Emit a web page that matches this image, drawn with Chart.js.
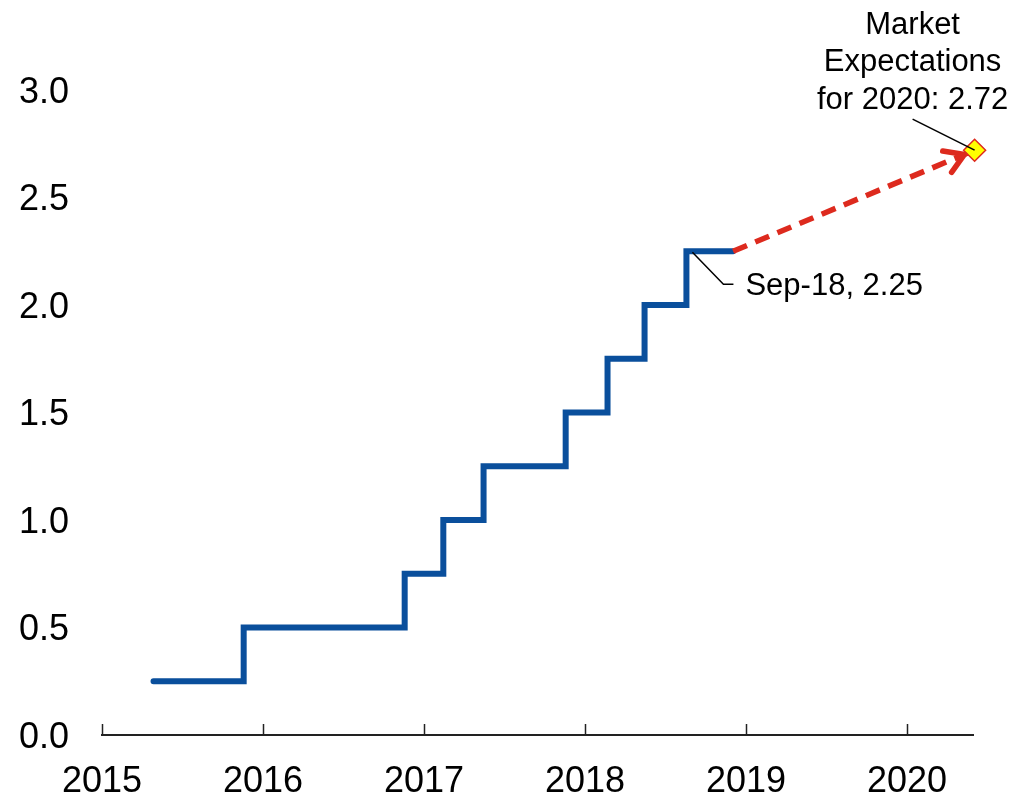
<!DOCTYPE html>
<html>
<head>
<meta charset="utf-8">
<script src="https://cdn.jsdelivr.net/npm/chart.js@4.4.0/dist/chart.umd.min.js"></script>
<style>
  html, body { margin: 0; padding: 0; background: #fff; }
  #wrap { width: 1015px; height: 797px; }
</style>
</head>
<body>
<div id="wrap"><canvas id="rateChart"></canvas></div>
<script>
// fed funds upper bound (x = decimal year)
var stepDates = [2015.32, 2015.88, 2016.88, 2017.12, 2017.37, 2017.88, 2018.14, 2018.37, 2018.63, 2018.92];
var rateLevels = [0.25, 0.5, 0.75, 1.0, 1.25, 1.5, 1.75, 2.0, 2.25, 2.25];
var forecastDates = [2018.92, 2020.42];
var forecastLevels = [2.25, 2.72];
var yearTicks = [2015, 2016, 2017, 2018, 2019, 2020];
var rateTicks = [0, 0.5, 1.0, 1.5, 2.0, 2.5, 3.0];
var lastLabel = 'Sep-18, 2.25';
var marketLabel = ['Market', 'Expectations', 'for 2020: 2.72'];

var FONT = '"Liberation Sans", Arial, sans-serif';
var BLUE = '#0a4f9c';
var RED = '#dd2a1e';

var annotations = {
  id: 'annotations',
  beforeDatasetsDraw(chart) {
    // arrow head of the forecast line
    const ctx = chart.ctx, x = chart.scales.x, y = chart.scales.y;
    const sx = x.getPixelForValue(forecastDates[0]), sy = y.getPixelForValue(forecastLevels[0]);
    const ex = x.getPixelForValue(forecastDates[1]), ey = y.getPixelForValue(forecastLevels[1]);
    const a = Math.atan2(ey - sy, ex - sx);
    const tx = ex - 11 * Math.cos(a), ty = ey - 11 * Math.sin(a);
    ctx.save();
    ctx.strokeStyle = RED;
    ctx.lineWidth = 5.5;
    ctx.lineCap = 'round';
    ctx.lineJoin = 'round';
    ctx.beginPath();
    ctx.moveTo(tx - 22 * Math.cos(a - 0.55), ty - 22 * Math.sin(a - 0.55));
    ctx.lineTo(tx, ty);
    ctx.lineTo(tx - 22 * Math.cos(a + 0.55), ty - 22 * Math.sin(a + 0.55));
    ctx.stroke();
    ctx.restore();
  },
  afterDatasetsDraw(chart) {
    const ctx = chart.ctx, x = chart.scales.x, y = chart.scales.y;
    const bottom = chart.chartArea.bottom;
    ctx.save();
    // year ticks point up into the plot
    ctx.strokeStyle = '#222';
    ctx.lineWidth = 1.5;
    yearTicks.forEach(v => {
      const px = Math.round(x.getPixelForValue(v)) + 0.5;
      ctx.beginPath();
      ctx.moveTo(px, bottom);
      ctx.lineTo(px, bottom - 11);
      ctx.stroke();
    });

    // Sep-18 label
    const lx = x.getPixelForValue(stepDates[8]) + 6, ly = y.getPixelForValue(rateLevels[8]) + 1;
    ctx.strokeStyle = '#000';
    ctx.lineWidth = 1.5;
    ctx.beginPath();
    ctx.moveTo(lx, ly);
    ctx.lineTo(lx + 31, ly + 32);
    ctx.lineTo(lx + 41, ly + 32);
    ctx.stroke();
    ctx.fillStyle = '#000';
    ctx.font = '31px ' + FONT;
    ctx.textBaseline = 'middle';
    ctx.textAlign = 'left';
    ctx.fillText(lastLabel, lx + 53, ly + 34);

    // market expectations label
    const mx = x.getPixelForValue(forecastDates[1]), my = y.getPixelForValue(forecastLevels[1]);
    ctx.beginPath();
    ctx.moveTo(mx - 62, my - 31);
    ctx.lineTo(mx, my);
    ctx.stroke();
    ctx.textAlign = 'center';
    marketLabel.forEach((t, i) => ctx.fillText(t, mx - 62, my - 125 + i * 37.5));
    ctx.restore();
  }
};

new Chart(document.getElementById('rateChart'), {
  type: 'line',
  data: {
    datasets: [
      {
        label: 'Market expectation',
        data: [{x: forecastDates[1], y: forecastLevels[1]}],
        showLine: false,
        pointStyle: 'rectRot',
        pointRadius: 11,
        pointBackgroundColor: '#ffff00',
        pointBorderColor: RED,
        pointBorderWidth: 1.5,
        clip: false
      },
      {
        label: 'Forecast',
        data: forecastDates.map((d, i) => ({x: d, y: forecastLevels[i]})),
        borderColor: RED,
        borderWidth: 5.5,
        borderDash: [15, 9],
        pointRadius: 0,
        clip: false
      },
      {
        label: 'Fed funds rate',
        data: stepDates.map((d, i) => ({x: d, y: rateLevels[i]})),
        stepped: 'before',
        borderColor: BLUE,
        borderWidth: 6,
        borderCapStyle: 'round',
        borderJoinStyle: 'miter',
        pointRadius: 0,
        clip: false
      }
    ]
  },
  options: {
    responsive: true,
    maintainAspectRatio: false,
    animation: false,
    layout: { padding: { left: 18, top: 90, right: 42, bottom: 0 } },
    plugins: { legend: { display: false }, tooltip: { enabled: false } },
    scales: {
      x: {
        type: 'linear',
        min: 2015,
        max: 2020.41,
        grid: { display: false, drawTicks: false },
        border: { display: true, color: '#222', width: 2 },
        afterBuildTicks: s => { s.ticks = yearTicks.map(v => ({value: v})); },
        afterFit: s => { s.height = 62; },
        ticks: {
          font: { size: 36, family: FONT },
          color: '#000',
          padding: 25,
          maxRotation: 0,
          autoSkip: false,
          callback: v => String(v)
        }
      },
      y: {
        min: 0,
        max: 3,
        grid: { display: false, drawTicks: false },
        border: { display: false },
        afterBuildTicks: s => { s.ticks = rateTicks.map(v => ({value: v})); },
        afterFit: s => { s.width = 84; },
        ticks: {
          font: { size: 36, family: FONT },
          color: '#000',
          padding: 33,
          labelOffset: 3,
          callback: v => v.toFixed(1)
        }
      }
    }
  },
  plugins: [annotations]
});
</script>
</body>
</html>
